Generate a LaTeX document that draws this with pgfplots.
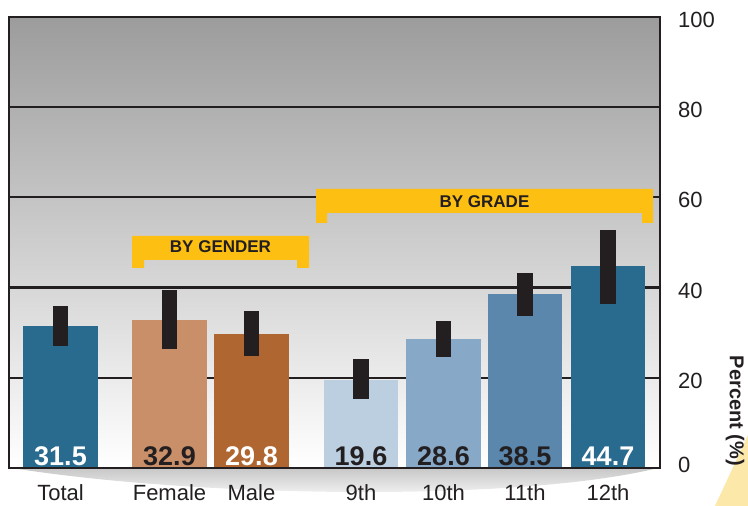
\documentclass[border=0pt]{standalone}
\usepackage{fontspec}
\setmainfont{Liberation Sans}
\usepackage{pgfplots}
\pgfplotsset{compat=1.18}
\definecolor{bgtop}{HTML}{9C9C9C}
\definecolor{frame}{HTML}{231F20}
\definecolor{errc}{HTML}{231F20}
\definecolor{yel}{HTML}{FDBF12}
\definecolor{yelpale}{HTML}{FCE8A8}
\definecolor{ctotal}{HTML}{296A8F}
\definecolor{cfemale}{HTML}{C98F68}
\definecolor{cmale}{HTML}{B06631}
\definecolor{cnine}{HTML}{BCCFE0}
\definecolor{cten}{HTML}{87A8C6}
\definecolor{celeven}{HTML}{5A87AB}
\definecolor{ctwelve}{HTML}{296A8F}
\newcommand{\tickfont}{\fontsize{22}{26}\selectfont}
\newcommand{\valfont}{\fontsize{27}{31}\selectfont\bfseries}
\newcommand{\brfont}{\fontsize{17}{20}\selectfont\bfseries}
\begin{document}
\begin{tikzpicture}
\begin{scope}[x=1pt,y=1pt]
\useasboundingbox (0,0) rectangle (748,506);
\fill[yelpale] (715,0) -- (748,0) -- (748,71) -- cycle;
\shade[top color=black!22, bottom color=white] (12,38) .. controls (200,8) and (520,4) .. (658,38) -- cycle;
\shade[top color=bgtop, bottom color=white] (9,38) rectangle (660,489);
\end{scope}
\begin{axis}[
  at={(9pt,38pt)}, anchor=south west, scale only axis,
  width=651pt, height=451pt,
  xmin=9, xmax=660, ymin=0, ymax=100,
  axis line style={draw=frame, line width=2.5pt},
  ymajorgrids, grid style={draw=frame, line width=2.2pt},
  major tick length=0pt,
  ytick={0,20,40,60,80,100},
  yticklabels={\raisebox{5.5pt}{0},20,40,60,80,100},
  yticklabel pos=right,
  yticklabel style={anchor=base west, inner sep=0pt, xshift=18pt, yshift=-10.5pt, font=\tickfont, text=frame},
  xtick={60.5,169.5,251.5,361,443.5,525,608},
  xticklabels={Total,Female,Male,9th,10th,11th,12th},
  xticklabel style={anchor=base, inner sep=0pt, yshift=-33pt, font=\tickfont, text=frame},
  /pgf/number format/assume math mode=true,
  mybar/.style={ybar, bar width=74.5, bar shift=0pt, draw=none, fill=#1,
    /pgfplots/error bars/y dir=both, /pgfplots/error bars/y explicit,
    /pgfplots/error bars/error mark=none,
    /pgfplots/error bars/error bar style={draw=errc, line width=15.5pt, line cap=butt}},
]
\addplot[mybar=ctotal]   coordinates {(60.5,31.5)  += (0,4.4) -= (0,4.4)};
\addplot[mybar=cfemale]  coordinates {(169.5,32.9) += (0,6.6) -= (0,6.5)};
\addplot[mybar=cmale]    coordinates {(251.5,29.8) += (0,5.0) -= (0,5.0)};
\addplot[mybar=cnine]    coordinates {(361,19.6)   += (0,4.6) -= (0,4.3)};
\addplot[mybar=cten]     coordinates {(443.5,28.6) += (0,4.0) -= (0,4.0)};
\addplot[mybar=celeven]  coordinates {(525,38.5)   += (0,4.7) -= (0,4.8)};
\addplot[mybar=ctwelve]  coordinates {(608,44.7)   += (0,8.1) -= (0,8.3)};
\draw[frame, line width=2.5pt] (rel axis cs:0,0) -- (rel axis cs:1,0);
\node[anchor=base, inner sep=0pt, yshift=2pt, font=\valfont, text=white] at (axis cs:60.5,0) {31.5};
\node[anchor=base, inner sep=0pt, yshift=2pt, font=\valfont, text=frame] at (axis cs:169.5,0) {32.9};
\node[anchor=base, inner sep=0pt, yshift=2pt, font=\valfont, text=white] at (axis cs:251.5,0) {29.8};
\node[anchor=base, inner sep=0pt, yshift=2pt, font=\valfont, text=frame] at (axis cs:361,0) {19.6};
\node[anchor=base, inner sep=0pt, yshift=2pt, font=\valfont, text=frame] at (axis cs:443.5,0) {28.6};
\node[anchor=base, inner sep=0pt, yshift=2pt, font=\valfont, text=frame] at (axis cs:525,0) {38.5};
\node[anchor=base, inner sep=0pt, yshift=2pt, font=\valfont, text=white] at (axis cs:608,0) {44.7};
\end{axis}
\begin{scope}[x=1pt,y=1pt]
\fill[yel] (132,270) -- (309,270) -- (309,238) -- (297,238) -- (297,246) -- (144,246) -- (144,238) -- (132,238) -- cycle;
\fill[yel] (316,317) -- (653,317) -- (653,283) -- (642,283) -- (642,293) -- (327,293) -- (327,283) -- (316,283) -- cycle;
\node[anchor=base, inner sep=0pt, font=\brfont, text=frame] at (220.5,253) {BY GENDER};
\node[anchor=base, inner sep=0pt, font=\brfont, text=frame] at (484.5,298) {BY GRADE};
\node[rotate=-90, inner sep=0pt, font=\fontsize{20}{24}\selectfont\bfseries, text=frame] at (735,95) {Percent (\%)};
\end{scope}
\end{tikzpicture}
\end{document}
